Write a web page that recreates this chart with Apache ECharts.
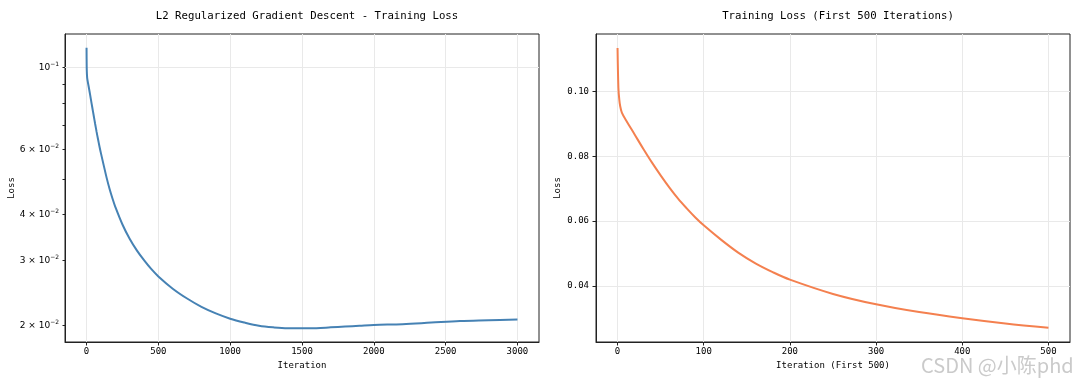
<!DOCTYPE html>
<html>
<head>
<meta charset="utf-8">
<script src="https://cdn.jsdelivr.net/npm/echarts@6/dist/echarts.min.js"></script>
<style>
  html, body { margin: 0; padding: 0; background: #fff; }
  #chart { width: 1080px; height: 381px; }
</style>
</head>
<body>
<div id="chart"></div>
<script>
// ---- data ----
const iterations = [0, 1, 2, 3, 5, 10, 20, 30, 40, 50, 60, 70, 80, 90, 100, 120, 140, 160, 180, 200,
  250, 300, 350, 400, 450, 500, 600, 700, 800, 900, 1000, 1100, 1200, 1300, 1400, 1500, 1600, 1700,
  1800, 1900, 2000, 2200, 2400, 2600, 2800, 3000];
const lossValues = [0.1133, 0.1010, 0.0975, 0.0955, 0.0934, 0.0910, 0.0866, 0.0822, 0.0780, 0.0741,
  0.0704, 0.0670, 0.0640, 0.0612, 0.0587, 0.0543, 0.0503, 0.0470, 0.0443, 0.0420,
  0.0376, 0.0344, 0.0320, 0.0301, 0.0285, 0.0272, 0.0252, 0.0237, 0.0225, 0.0216, 0.0209, 0.0204,
  0.0200, 0.0198, 0.0197, 0.0197, 0.0197, 0.0198, 0.0199, 0.0200, 0.0201, 0.0202, 0.0204, 0.0206,
  0.0207, 0.0208];
const firstN = 500;

const leftXTicks = [0, 500, 1000, 1500, 2000, 2500, 3000];
const leftYMinorTicks = [0.02, 0.03, 0.04, 0.05, 0.06, 0.07, 0.08, 0.09, 0.1];
const leftYLabelValues = [0.02, 0.03, 0.04, 0.06, 0.1];
const leftYLabelMantissa = ['2', '3', '4', '6', ''];
const leftYLabelExponent = ['−2', '−2', '−2', '−2', '−1'];
const rightXTicks = [0, 100, 200, 300, 400, 500];
const rightYTicks = [0.04, 0.06, 0.08, 0.10];

const titles = ['L2 Regularized Gradient Descent - Training Loss', 'Training Loss (First 500 Iterations)'];
const xNames = ['Iteration', 'Iteration (First 500)'];
const yName = 'Loss';
const watermark = 'CSDN @小陈phd';

// ---- build ----
const fullData = iterations.map((it, i) => [it, lossValues[i]]);
const firstData = fullData.filter(d => d[0] <= firstN);

const MONO = '"DejaVu Sans Mono", monospace';
const AXIS_COLOR = '#222';
const GRID_COLOR = '#e9e9e9';
const TEXT_COLOR = '#000';

const chart = echarts.init(document.getElementById('chart'), null, { renderer: 'canvas' });

function leftYFormatter(v) {
  const idx = leftYLabelValues.findIndex(t => Math.abs(t - v) < 1e-9);
  if (idx < 0) return '';
  const m = leftYLabelMantissa[idx];
  return (m ? '{m|' + m + ' × 10}' : '{m|10}') + '{e|' + leftYLabelExponent[idx] + '}';
}

const option = {
  animation: false,
  backgroundColor: '#fff',
  title: [
    { text: titles[0], left: 302, top: 6, textAlign: 'center',
      textStyle: { fontFamily: MONO, fontSize: 10.7, fontWeight: 'normal', color: TEXT_COLOR } },
    { text: titles[1], left: 833, top: 6, textAlign: 'center',
      textStyle: { fontFamily: MONO, fontSize: 10.7, fontWeight: 'normal', color: TEXT_COLOR } }
  ],
  grid: [
    { left: 65, right: 541, top: 34, bottom: 39, show: true, borderColor: AXIS_COLOR, borderWidth: 1, backgroundColor: 'transparent' },
    { left: 596, right: 10, top: 34, bottom: 39, show: true, borderColor: AXIS_COLOR, borderWidth: 1, backgroundColor: 'transparent' }
  ],
  xAxis: [
    { type: 'value', gridIndex: 0, min: -150, max: 3150,
      name: xNames[0], nameLocation: 'middle', nameGap: 19,
      nameTextStyle: { fontFamily: MONO, fontSize: 9, color: TEXT_COLOR },
      axisLine: { show: true, onZero: false, lineStyle: { color: AXIS_COLOR, width: 1 } },
      axisTick: { show: true, inside: false, length: 3.5, customValues: leftXTicks, lineStyle: { color: AXIS_COLOR } },
      axisLabel: { customValues: leftXTicks, margin: 5, fontFamily: MONO, fontSize: 9, color: TEXT_COLOR,
        formatter: v => String(v) },
      splitLine: { show: true, lineStyle: { color: GRID_COLOR, width: 1 } } },
    { type: 'value', gridIndex: 1, min: -25, max: 525,
      name: xNames[1], nameLocation: 'middle', nameGap: 19,
      nameTextStyle: { fontFamily: MONO, fontSize: 9, color: TEXT_COLOR },
      axisLine: { show: true, onZero: false, lineStyle: { color: AXIS_COLOR, width: 1 } },
      axisTick: { show: true, inside: false, length: 3.5, customValues: rightXTicks, lineStyle: { color: AXIS_COLOR } },
      axisLabel: { customValues: rightXTicks, margin: 5, fontFamily: MONO, fontSize: 9, color: TEXT_COLOR,
        formatter: v => String(v) },
      splitLine: { show: true, lineStyle: { color: GRID_COLOR, width: 1 } } }
  ],
  yAxis: [
    { type: 'log', logBase: 10, gridIndex: 0, min: 0.01807, max: 0.1234,
      name: yName, nameLocation: 'middle', nameGap: 49,
      nameTextStyle: { fontFamily: MONO, fontSize: 9, color: TEXT_COLOR },
      axisLine: { show: true, onZero: false, lineStyle: { color: AXIS_COLOR, width: 1 } },
      axisTick: { show: true, inside: false, length: 2.5, customValues: leftYMinorTicks, lineStyle: { color: AXIS_COLOR } },
      axisLabel: { customValues: leftYLabelValues, margin: 6, formatter: leftYFormatter, color: TEXT_COLOR,
        rich: {
          m: { fontFamily: '"DejaVu Sans", sans-serif', fontSize: 9, color: TEXT_COLOR },
          e: { fontFamily: '"DejaVu Sans", sans-serif', fontSize: 6, color: TEXT_COLOR, padding: [0, 0, 7, 0] }
        } },
      splitLine: { show: false } },
    { type: 'value', gridIndex: 1, min: 0.0228, max: 0.1176,
      name: yName, nameLocation: 'middle', nameGap: 34,
      nameTextStyle: { fontFamily: MONO, fontSize: 9, color: TEXT_COLOR },
      axisLine: { show: true, onZero: false, lineStyle: { color: AXIS_COLOR, width: 1 } },
      axisTick: { show: true, inside: false, length: 3.5, customValues: rightYTicks, lineStyle: { color: AXIS_COLOR } },
      axisLabel: { customValues: rightYTicks, margin: 7, fontFamily: MONO, fontSize: 9, color: TEXT_COLOR,
        formatter: v => v.toFixed(2) },
      splitLine: { show: true, lineStyle: { color: GRID_COLOR, width: 1 } } }
  ],
  series: [
    { type: 'line', xAxisIndex: 0, yAxisIndex: 0, data: fullData, showSymbol: false,
      smooth: 0.35,
      lineStyle: { color: '#4682b4', width: 2 }, itemStyle: { color: '#4682b4' },
      markLine: { silent: true, symbol: 'none', label: { show: false }, z: 1,
        lineStyle: { color: GRID_COLOR, width: 1, type: 'solid' },
        data: [{ yAxis: leftYLabelValues[leftYLabelValues.length - 1] }] } },
    { type: 'line', xAxisIndex: 1, yAxisIndex: 1, data: firstData, showSymbol: false,
      smooth: 0.35,
      lineStyle: { color: '#f4804f', width: 2 }, itemStyle: { color: '#f4804f' } }
  ],
  graphic: [
    { type: 'text', left: 921, top: 355, silent: true,
      style: { text: watermark, fontFamily: '"Noto Sans CJK SC", "Noto Sans", sans-serif', fontSize: 20, fill: 'rgba(150,150,150,0.5)' } }
  ]
};
chart.setOption(option);
</script>
</body>
</html>
